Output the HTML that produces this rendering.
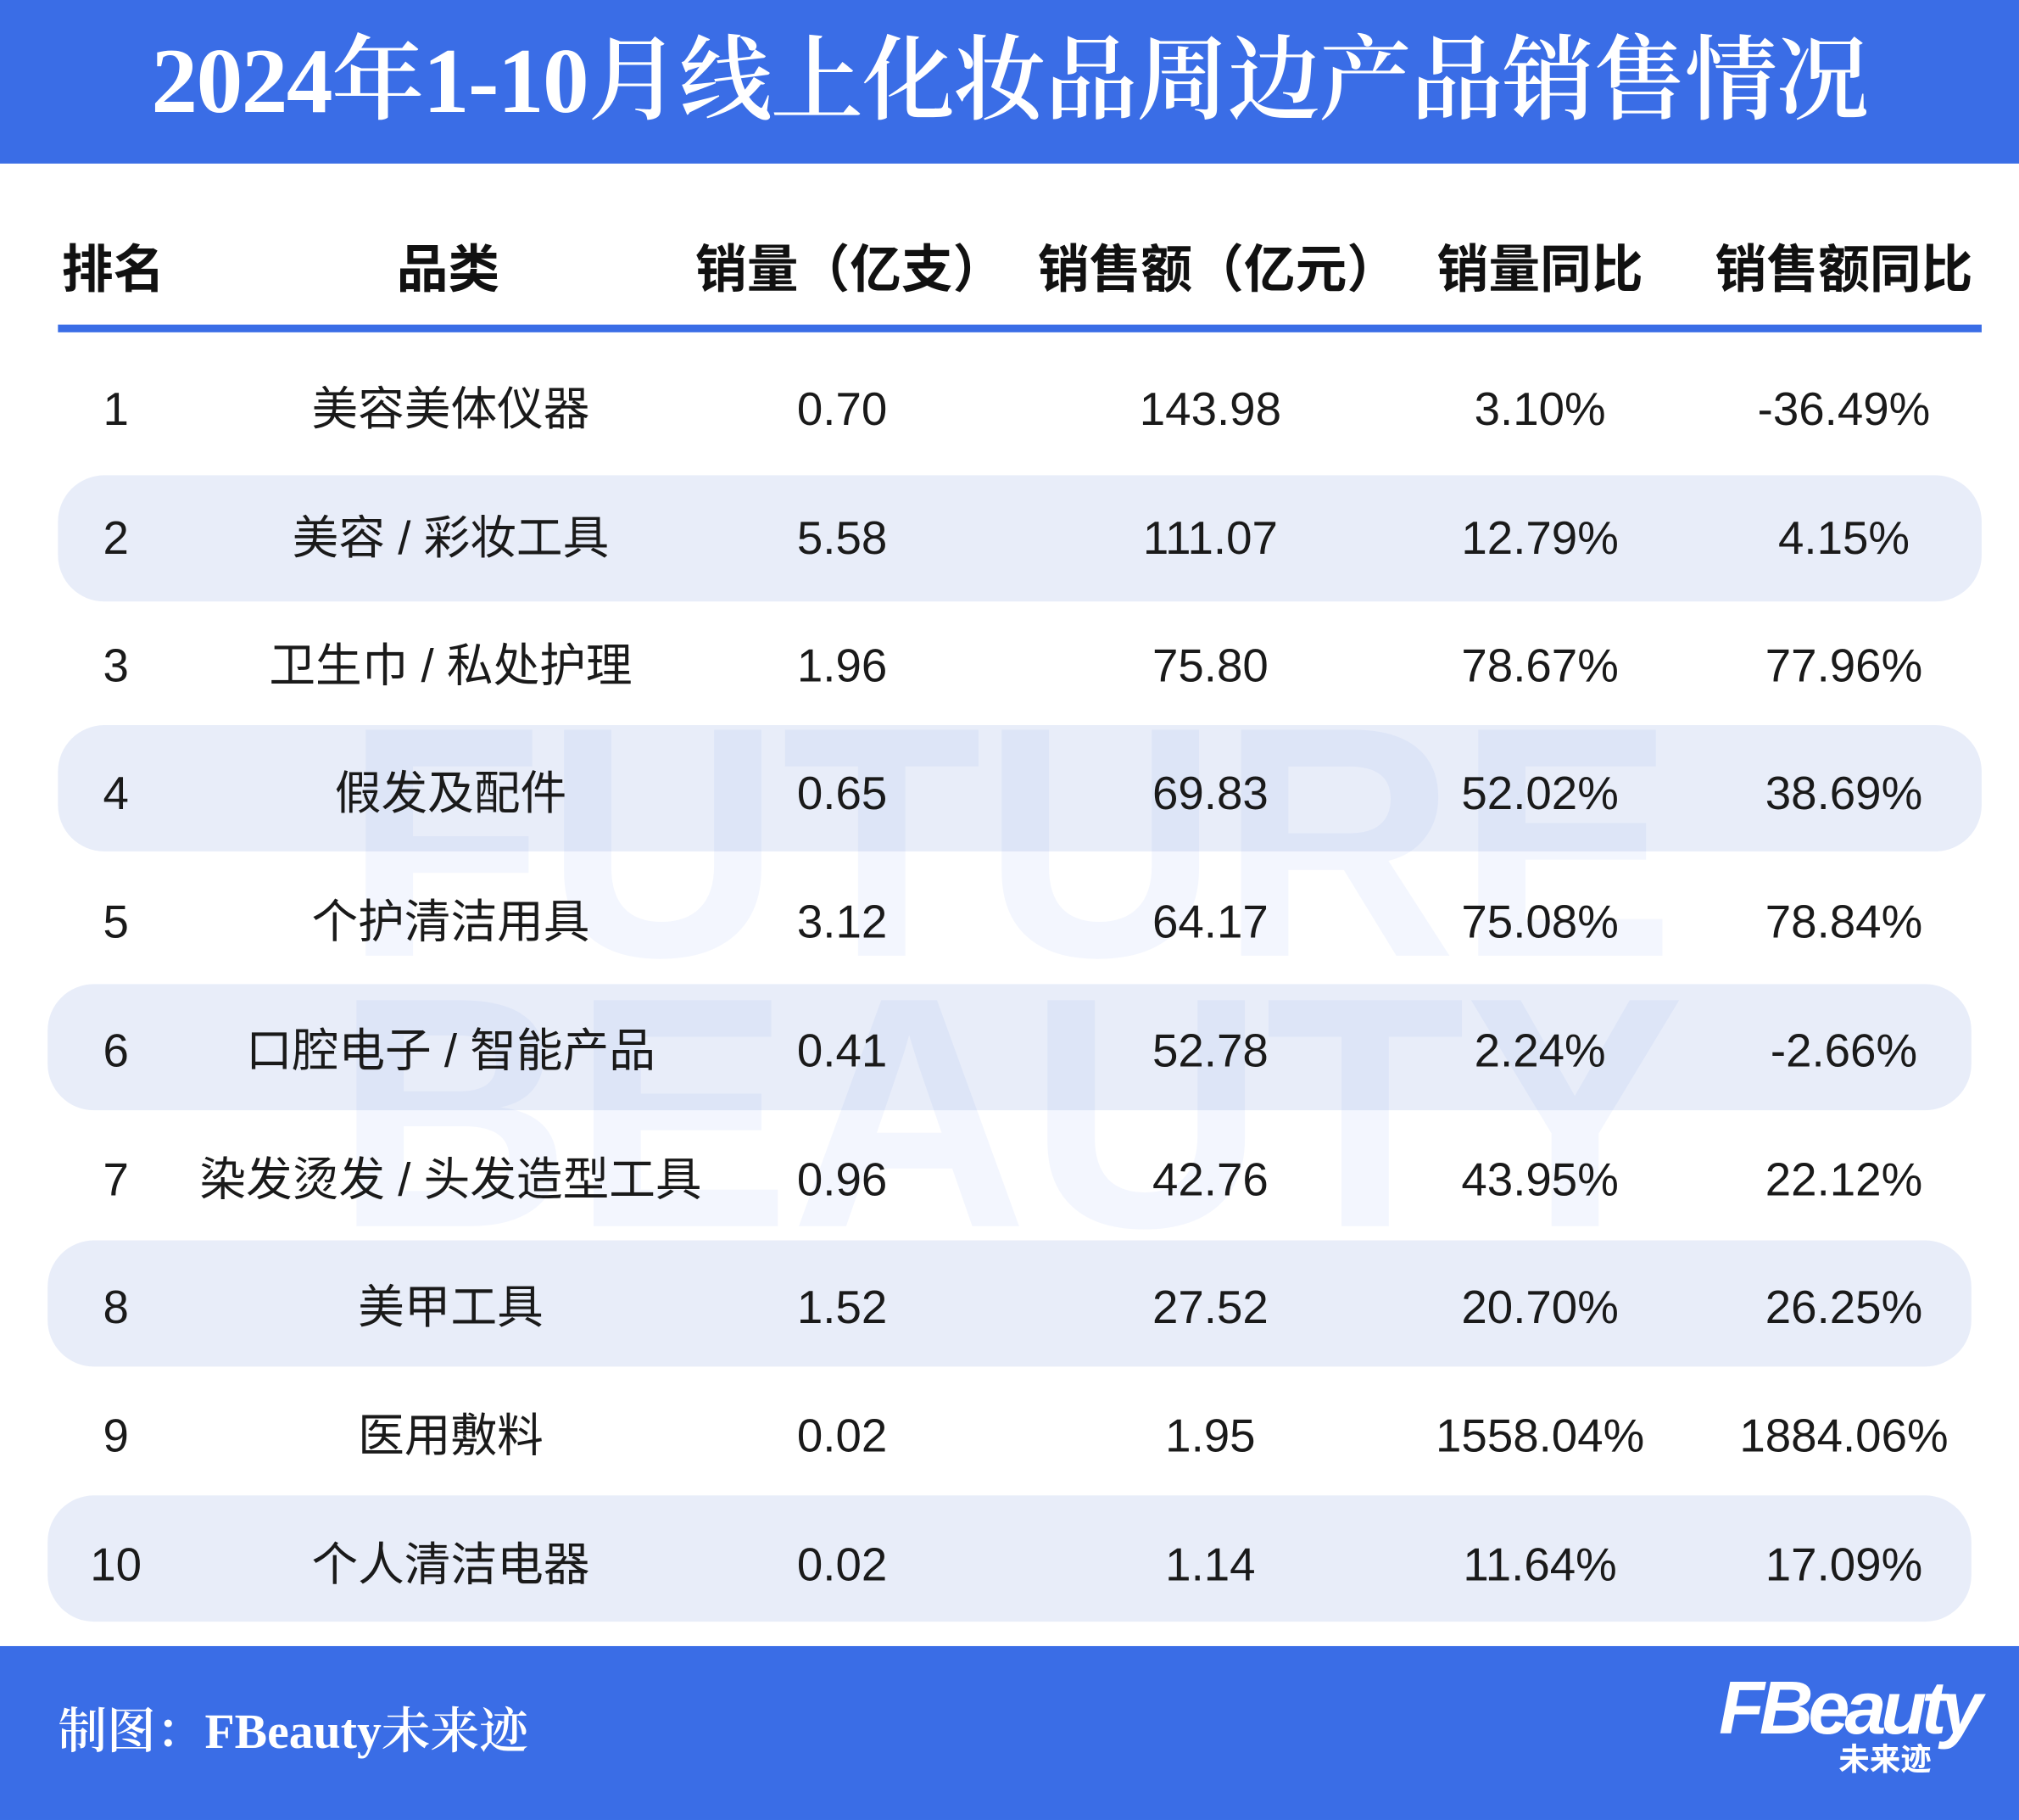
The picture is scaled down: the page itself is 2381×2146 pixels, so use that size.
<!DOCTYPE html>
<html><head><meta charset="utf-8"><style>
html,body{margin:0;padding:0;background:#fff;}
#wrap{width:1568px;height:1413px;position:relative;transform:scale(1.51849,1.51875);transform-origin:0 0;overflow:hidden;font-family:"Liberation Sans","Noto Sans CJK SC",sans-serif;color:#1a1a1a;}
.hdr{position:absolute;left:0;top:0;width:1568px;height:127px;background:#3a6de6;}
.title{position:absolute;left:0;top:18px;width:1568px;text-align:center;color:#fff;font-family:"Liberation Serif","Noto Serif CJK SC",serif;font-size:72px;font-weight:600;line-height:90px;letter-spacing:-1px;}
.th{position:absolute;top:185px;font-size:40px;font-weight:700;line-height:50px;transform:translateX(-50%);white-space:nowrap;color:#111;}
.line{position:absolute;left:45px;top:252px;width:1494px;height:6px;background:#3a6de6;}
.band{position:absolute;height:98px;background:#e8edf9;border-radius:36px;}
.wm{position:absolute;left:0;width:1568px;text-align:center;font-family:"Liberation Sans",sans-serif;font-weight:700;font-size:255px;color:#3a6de6;opacity:0.06;letter-spacing:0px;line-height:200px;}
.c{position:absolute;font-size:36px;line-height:50px;transform:translateX(-50%);white-space:nowrap;}
.ftr{position:absolute;left:0;top:1278px;width:1568px;height:135px;background:#3a6de6;}
.src{position:absolute;left:45px;top:1320px;color:#fff;font-family:"Liberation Serif","Noto Serif CJK SC",serif;font-size:38px;font-weight:600;line-height:50px;}
.logo{position:absolute;left:1335px;top:1292px;color:#fff;font-weight:700;font-style:italic;font-size:58px;line-height:70px;letter-spacing:-4px;}
.logo2{position:absolute;left:1428px;top:1352px;color:#fff;font-weight:700;font-size:24px;line-height:30px;}
</style></head><body><div id="wrap">
<div class="hdr"></div>
<div class="title">2024年1-10月线上化妆品周边产品销售情况</div>
<div class="th" style="left:88px">排名</div>
<div class="th" style="left:348px">品类</div>
<div class="th" style="left:660px">销量（亿支）</div>
<div class="th" style="left:946px">销售额（亿元）</div>
<div class="th" style="left:1196px">销量同比</div>
<div class="th" style="left:1432px">销售额同比</div>
<div class="line"></div>
<div class="band" style="left:45px;width:1494px;top:369px"></div>
<div class="band" style="left:45px;width:1494px;top:563px"></div>
<div class="band" style="left:37px;width:1494px;top:764px"></div>
<div class="band" style="left:37px;width:1494px;top:963px"></div>
<div class="band" style="left:37px;width:1494px;top:1161px"></div>
<div class="wm" style="top:555px">FUTURE</div>
<div class="wm" style="top:765px">BEAUTY</div>
<div id="rows"></div>
<div class="ftr"></div>
<div class="src">制图：FBeauty未来迹</div>
<div class="logo">FBeauty</div>
<div class="logo2">未来迹</div>
<script>
var d=[["1","美容美体仪器","0.70","143.98","3.10%","-36.49%"],["2","美容 / 彩妆工具","5.58","111.07","12.79%","4.15%"],["3","卫生巾 / 私处护理","1.96","75.80","78.67%","77.96%"],["4","假发及配件","0.65","69.83","52.02%","38.69%"],["5","个护清洁用具","3.12","64.17","75.08%","78.84%"],["6","口腔电子 / 智能产品","0.41","52.78","2.24%","-2.66%"],["7","染发烫发 / 头发造型工具","0.96","42.76","43.95%","22.12%"],["8","美甲工具","1.52","27.52","20.70%","26.25%"],["9","医用敷料","0.02","1.95","1558.04%","1884.06%"],["10","个人清洁电器","0.02","1.14","11.64%","17.09%"]];
var xs=[90,350,654,940,1196,1432],ys=[318,418,517,616,716,816,916,1015,1115,1215],h="";
d.forEach(function(r,i){r.forEach(function(t,j){h+='<div class="c" style="left:'+xs[j]+'px;top:'+(ys[i]-25)+'px">'+t+'</div>';});});
document.getElementById("rows").innerHTML=h;
</script>
</div></body></html>
